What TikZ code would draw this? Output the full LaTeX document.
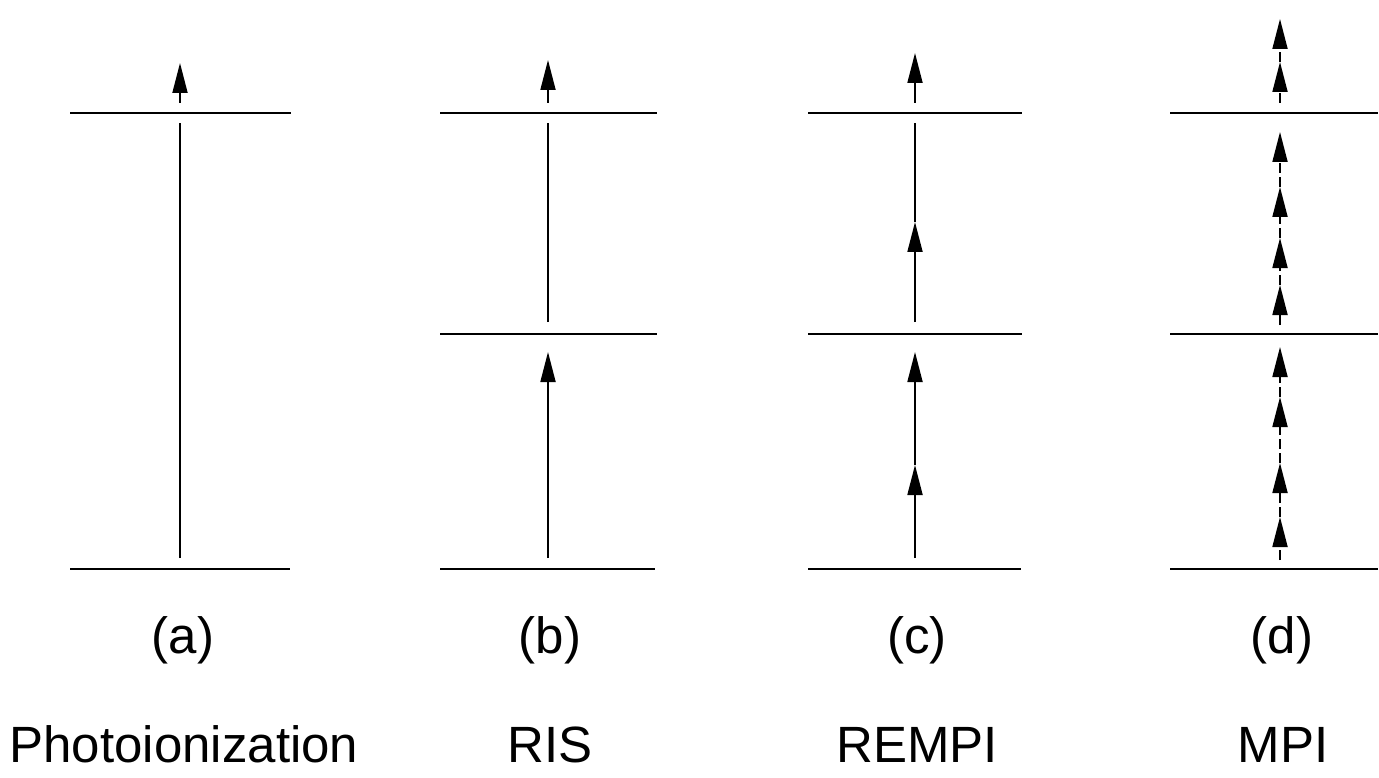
\documentclass[tikz,border=0pt]{standalone}
\usepackage{fontspec}
\setmainfont{Liberation Sans}
\usetikzlibrary{arrows.meta}
\begin{document}
\begin{tikzpicture}[x=1pt,y=-1pt,
  level/.style={line width=1.6pt},
  photon/.style={line width=1.8pt,-{Triangle[length=30pt,width=15pt]}},
  plainline/.style={line width=1.8pt},
  mphoton/.style={photon,dash pattern=on 10pt off 4pt},
  lbl/.style={anchor=base,inner sep=0pt,font=\fontsize{51}{60}\selectfont}]
\useasboundingbox (0,0) rectangle (1379,778);

% ---- (a) photoionization ----
\coordinate (a-top-l) at (70,113);  \coordinate (a-top-r) at (291,113);
\coordinate (a-bot-l) at (70,569);  \coordinate (a-bot-r) at (290,569);
\draw[level] (a-top-l) -- (a-top-r);
\draw[level] (a-bot-l) -- (a-bot-r);
\coordinate (a0) at (180,558); \coordinate (a1) at (180,123);
\draw[plainline] (a0) -- (a1);
\coordinate (a2) at (180,103); \coordinate (a3) at (180,63);
\draw[photon] (a2) -- (a3);

% ---- (b) RIS ----
\coordinate (b-top-l) at (440,113); \coordinate (b-top-r) at (657,113);
\coordinate (b-mid-l) at (440,334); \coordinate (b-mid-r) at (657,334);
\coordinate (b-bot-l) at (440,569); \coordinate (b-bot-r) at (655,569);
\draw[level] (b-top-l) -- (b-top-r);
\draw[level] (b-mid-l) -- (b-mid-r);
\draw[level] (b-bot-l) -- (b-bot-r);
\coordinate (b0) at (548,558); \coordinate (b1) at (548,352);
\draw[photon] (b0) -- (b1);
\coordinate (b2) at (548,322); \coordinate (b3) at (548,123);
\draw[plainline] (b2) -- (b3);
\coordinate (b4) at (548,103); \coordinate (b5) at (548,60);
\draw[photon] (b4) -- (b5);

% ---- (c) REMPI ----
\coordinate (c-top-l) at (808,113); \coordinate (c-top-r) at (1022,113);
\coordinate (c-mid-l) at (808,334); \coordinate (c-mid-r) at (1022,334);
\coordinate (c-bot-l) at (808,569); \coordinate (c-bot-r) at (1021,569);
\draw[level] (c-top-l) -- (c-top-r);
\draw[level] (c-mid-l) -- (c-mid-r);
\draw[level] (c-bot-l) -- (c-bot-r);
\coordinate (c0) at (915,558); \coordinate (c1) at (915,465);
\coordinate (c2) at (915,352);
\draw[photon] (c0) -- (c1);
\draw[photon] (c1) -- (c2);
\coordinate (c3) at (915,322); \coordinate (c4) at (915,222);
\coordinate (c5) at (915,123);
\draw[photon] (c3) -- (c4);
\draw[plainline] (c4) -- (c5);
\coordinate (c6) at (915,103); \coordinate (c7) at (915,53);
\draw[photon] (c6) -- (c7);

% ---- (d) MPI ----
\coordinate (d-top-l) at (1170,113); \coordinate (d-top-r) at (1378,113);
\coordinate (d-mid-l) at (1170,334); \coordinate (d-mid-r) at (1378,334);
\coordinate (d-bot-l) at (1170,569); \coordinate (d-bot-r) at (1378,569);
\draw[level] (d-top-l) -- (d-top-r);
\draw[level] (d-mid-l) -- (d-mid-r);
\draw[level] (d-bot-l) -- (d-bot-r);
\coordinate (d0) at (1280,560); \coordinate (d1) at (1280,517);
\coordinate (d2) at (1280,463);  \coordinate (d3) at (1280,397);
\coordinate (d4) at (1280,347);
\draw[mphoton] (d0) -- (d1);
\draw[mphoton] (d1) -- (d2);
\draw[mphoton] (d2) -- (d3);
\draw[mphoton] (d3) -- (d4);
\coordinate (d5) at (1280,325); \coordinate (d6) at (1280,285);
\coordinate (d7) at (1280,238);  \coordinate (d8) at (1280,187);
\coordinate (d9) at (1280,132);
\draw[mphoton] (d5) -- (d6);
\draw[mphoton] (d6) -- (d7);
\draw[mphoton] (d7) -- (d8);
\draw[mphoton] (d8) -- (d9);
\coordinate (d10) at (1280,103); \coordinate (d11) at (1280,62);
\coordinate (d12) at (1280,19);
\draw[mphoton] (d10) -- (d11);
\draw[mphoton] (d11) -- (d12);

% ---- labels ----
\node[lbl] (la) at (183,653) {(a)};
\node[lbl] (lb) at (550,653) {(b)};
\node[lbl] (lc) at (917,653) {(c)};
\node[lbl] (ld) at (1282,653) {(d)};
\node[lbl] (na) at (184,762) {Photoionization};
\node[lbl] (nb) at (550,762) {RIS};
\node[lbl] (nc) at (917,762) {REMPI};
\node[lbl] (nd) at (1283,762) {MPI};
\end{tikzpicture}
\end{document}
